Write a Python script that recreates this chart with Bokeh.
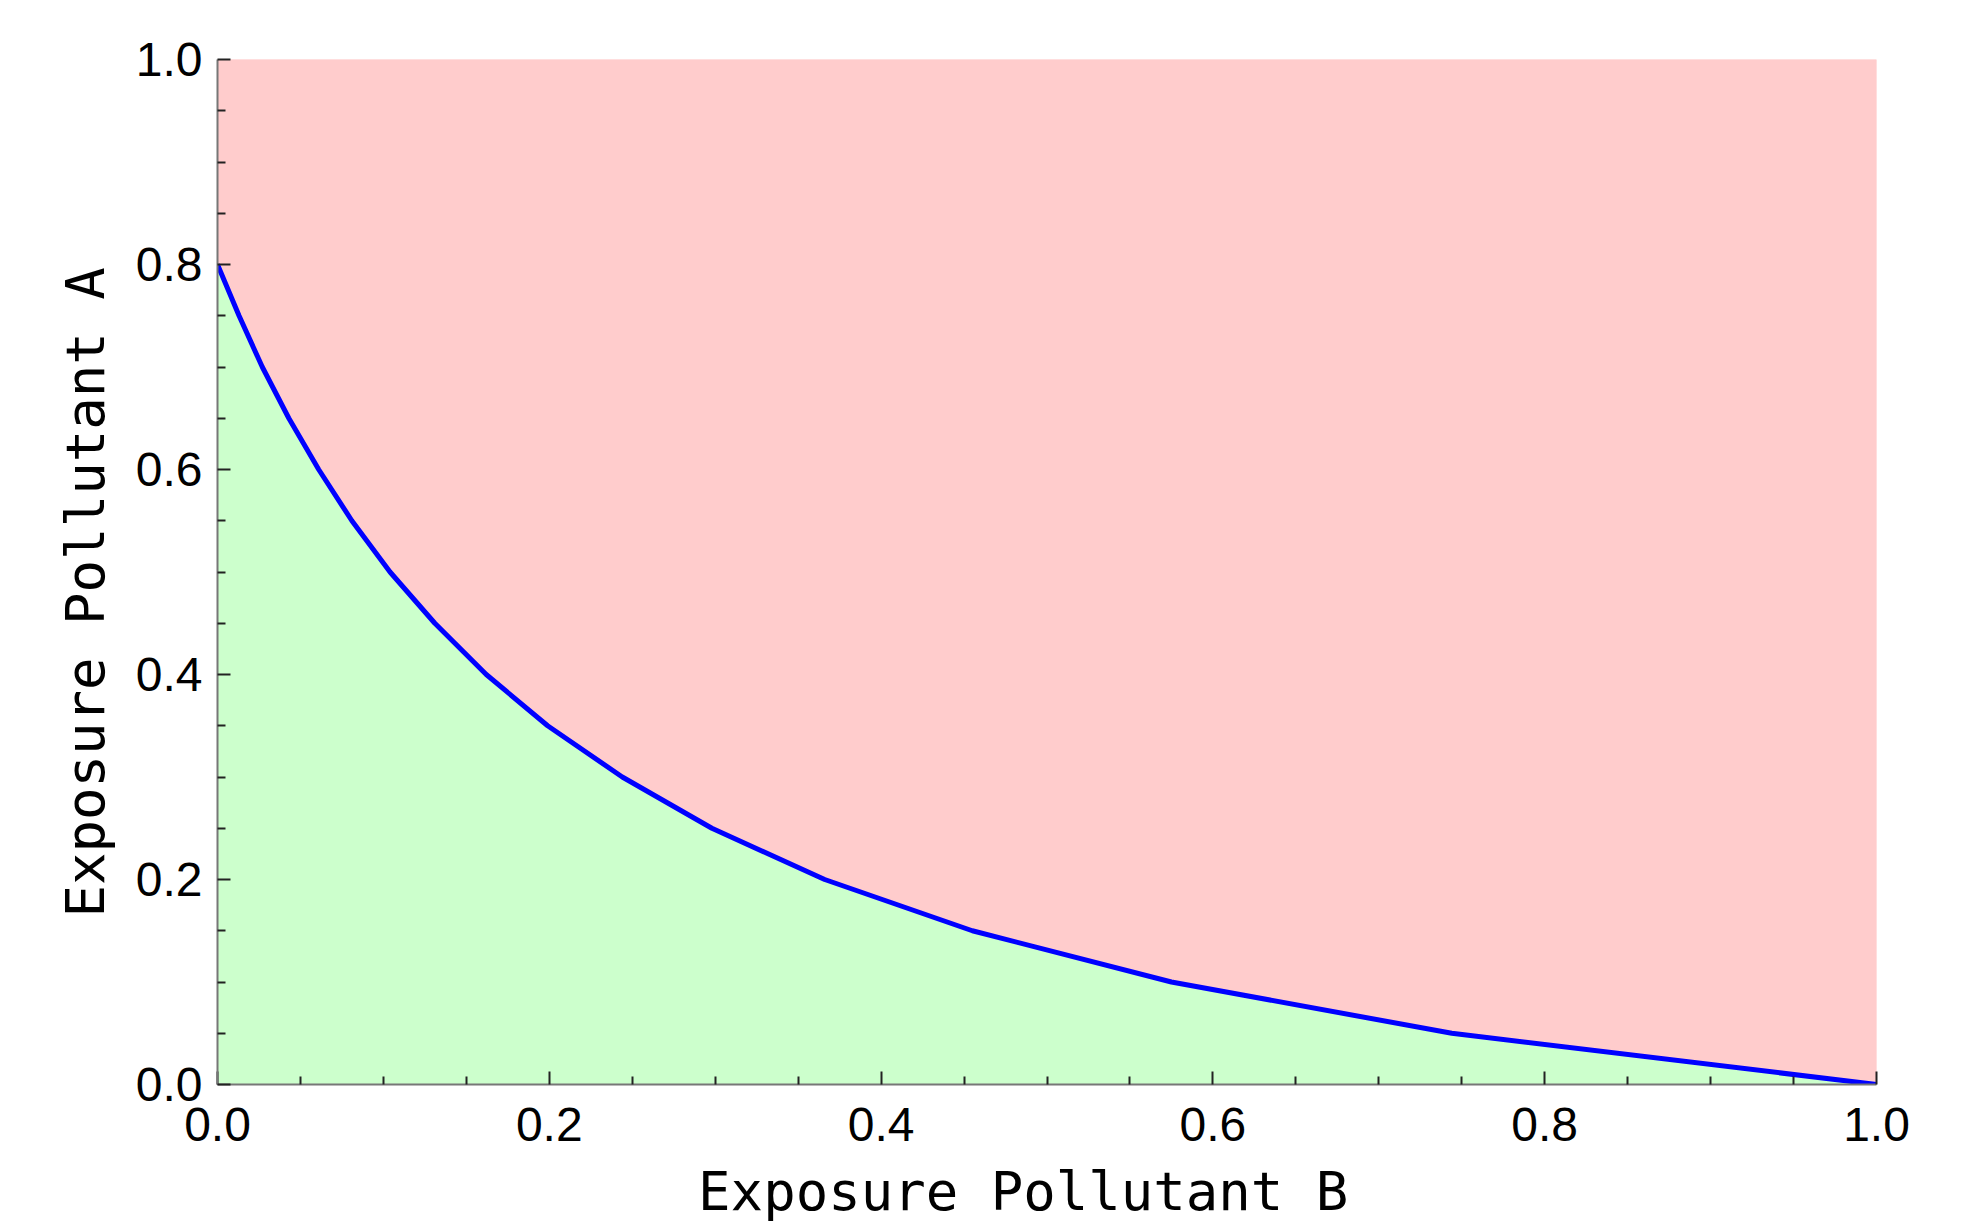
from bokeh.plotting import figure
from bokeh.layouts import column
from bokeh.models import Range1d, FixedTicker, ColumnDataSource, Title
from bokeh.core.properties import value
from bokeh.embed import file_html
from bokeh.resources import INLINE

# Boundary curve
exposure_b = [0.0, 0.013, 0.027, 0.043, 0.061, 0.081, 0.104, 0.131, 0.162, 0.199,
              0.244, 0.298, 0.366, 0.455, 0.575, 0.744, 1.0]
exposure_a = [0.80, 0.75, 0.70, 0.65, 0.60, 0.55, 0.50, 0.45, 0.40, 0.35,
              0.30, 0.25, 0.20, 0.15, 0.10, 0.05, 0.0]

major_ticks = [0.0, 0.2, 0.4, 0.6, 0.8, 1.0]
tick_labels = ["0.0", "0.2", "0.4", "0.6", "0.8", "1.0"]
minor_ticks = [0.05, 0.1, 0.15, 0.25, 0.3, 0.35, 0.45, 0.5, 0.55, 0.65, 0.7, 0.75, 0.85, 0.9, 0.95]

x_label = "Exposure Pollutant B"
y_label = "Exposure Pollutant A"

upper = [1.0] * len(exposure_b)
lower = [0.0] * len(exposure_b)
src = ColumnDataSource(dict(x=exposure_b, y=exposure_a, top=upper, bottom=lower))

# layout constants (pixels)
W = 1976
LEFT, FRAME_W, TOP, FRAME_H = 217, 1659, 59, 1025
BOTTOM = 75
H_MAIN = TOP + FRAME_H + BOTTOM
H_LABEL = 1222 - H_MAIN
LABEL_BASELINE_FROM_TOP = 1191 - H_MAIN

p = figure(width=W, height=H_MAIN, output_backend="svg", toolbar_location=None,
           x_range=Range1d(0, 1), y_range=Range1d(0, 1),
           min_border_left=LEFT, min_border_right=W - LEFT - FRAME_W,
           min_border_top=TOP, min_border_bottom=BOTTOM)
p.outline_line_color = None
p.background_fill_color = "#FFCCCC"
p.border_fill_color = "white"
p.xgrid.visible = False
p.ygrid.visible = False

p.varea(x="x", y1="y", y2="top", source=src, fill_color="#FFCCCC")
p.varea(x="x", y1="bottom", y2="y", source=src, fill_color="#CCFFCC")
p.line(x="x", y="y", source=src, line_color="#0000FF", line_width=5)

overrides = {t: l for t, l in zip(major_ticks, tick_labels)}
for ax in (p.xaxis[0], p.yaxis[0]):
    ax.ticker = FixedTicker(ticks=major_ticks, minor_ticks=minor_ticks)
    ax.major_label_overrides = overrides
    ax.major_label_text_font = "Liberation Sans"
    ax.major_label_text_font_size = "48px"
    ax.major_label_text_color = "black"
    ax.axis_line_color = "#777777"
    ax.axis_line_width = 2
    ax.major_tick_line_color = "#222222"
    ax.minor_tick_line_color = "#222222"
    ax.major_tick_line_width = 2
    ax.minor_tick_line_width = 2
    ax.major_tick_in = 13
    ax.major_tick_out = 0
    ax.minor_tick_in = 8
    ax.minor_tick_out = 0

p.xaxis.major_label_standoff = 23
p.yaxis.major_label_standoff = 15

# y-axis title (offset along the axis as in the reference)
p.add_layout(Title(text=y_label, align="left", offset=167, standoff=31,
                   text_font="DejaVu Sans Mono", text_font_size="54px",
                   text_font_style="normal", text_color="black"), "left")

# x-axis title in a strip below the plot, sharing the x range
p2 = figure(width=W, height=H_LABEL, output_backend="svg", toolbar_location=None,
            x_range=p.x_range, y_range=Range1d(0, H_LABEL),
            x_axis_type=None, y_axis_type=None,
            min_border_left=LEFT, min_border_right=W - LEFT - FRAME_W,
            min_border_top=0, min_border_bottom=0)
p2.outline_line_color = None
p2.background_fill_color = "white"
p2.border_fill_color = "white"
p2.text(x=[0.2897], y=[H_LABEL - LABEL_BASELINE_FROM_TOP], text=[x_label],
        text_align="left", text_baseline="alphabetic",
        text_font=value("DejaVu Sans Mono"), text_font_size=value("54px"),
        text_color="black")

layout = column(p, p2, spacing=0)
open("out.html", "w").write(file_html(layout, INLINE))
